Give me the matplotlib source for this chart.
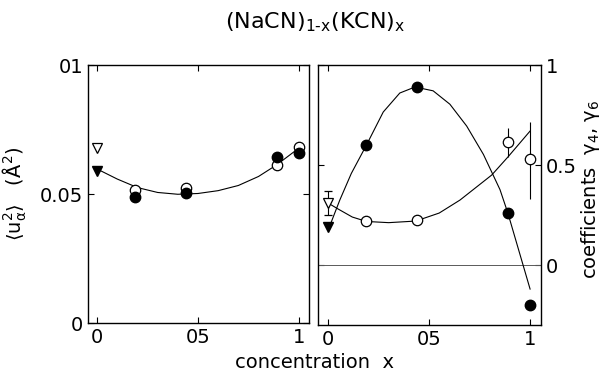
import matplotlib
matplotlib.use("Agg")
import matplotlib.pyplot as plt

plt.rcParams["mathtext.default"] = "regular"
plt.rcParams["font.family"] = ["DejaVu Sans"]

# left panel: <u^2> vs concentration
x_pts = [0.19, 0.44, 0.89, 1.0]
u2_open = [0.0514, 0.0525, 0.0613, 0.0684]
u2_filled = [0.0490, 0.0503, 0.0645, 0.0658]
x_tri = [0.0]
u2_tri_open = [0.0677]
u2_tri_filled = [0.0590]
u2_curve_x = [0.0, 0.1, 0.2, 0.3, 0.4, 0.5, 0.6, 0.7, 0.8, 0.89, 0.995]
u2_curve_y = [0.0597, 0.0558, 0.0525, 0.0506, 0.0499, 0.0502, 0.0513,
              0.0533, 0.0568, 0.0613, 0.0675]

# right panel: coefficients gamma4 (filled), gamma6 (open)
g4 = [0.60, 0.89, 0.26, -0.20]
g6 = [0.218, 0.224, 0.613, 0.53]
g6_err_lo = [0.02, 0.02, 0.073, 0.20]
g6_err_hi = [0.02, 0.02, 0.070, 0.187]
g4_tri = [0.19]
g6_tri = [0.31]
g6_tri_err = [0.06]
g4_curve_x = [0.01, 0.058, 0.115, 0.19, 0.273, 0.355, 0.43, 0.52, 0.603,
              0.686, 0.769, 0.851, 0.89, 1.0]
g4_curve_y = [0.20, 0.325, 0.458, 0.60, 0.765, 0.86, 0.89, 0.871, 0.804,
              0.695, 0.553, 0.377, 0.26, -0.12]
g6_curve_x = [0.0, 0.05, 0.12, 0.19, 0.3, 0.434, 0.55, 0.653, 0.81, 0.89, 1.0]
g6_curve_y = [0.31, 0.28, 0.24, 0.218, 0.212, 0.22, 0.26, 0.325, 0.45, 0.54, 0.67]

fig = plt.figure(figsize=(6.08, 3.78), dpi=100)
ax1 = fig.add_axes([0.1447, 0.1455, 0.3635, 0.6825])
ax2 = fig.add_axes([0.523, 0.140, 0.3668, 0.688])

ms = 7.5
fs = 14

# ---- left panel
ax1.plot(u2_curve_x, u2_curve_y, color="k", lw=0.8)
ax1.plot(x_pts, u2_open, "o", ms=ms, mfc="white", mec="k", mew=0.9)
ax1.plot(x_pts, u2_filled, "o", ms=ms, mfc="k", mec="k")
ax1.plot(x_tri, u2_tri_open, "v", ms=ms, mfc="white", mec="k", mew=0.9)
ax1.plot(x_tri, u2_tri_filled, "v", ms=ms, mfc="k", mec="k")
ax1.set_xlim(-0.045, 1.05)
ax1.set_ylim(0, 0.1)
ax1.set_xticks([0, 0.5, 1])
ax1.set_xticklabels(["0", "05", "1"])
ax1.set_yticks([0, 0.05, 0.1])
ax1.set_yticklabels(["0", "0.05", "01"])
ax1.set_ylabel(r"$\langle u_{\alpha}^{2}\rangle$   (Å$^{2}$)", fontsize=fs, labelpad=8)

# ---- right panel
ax2.axhline(0, color="0.35", lw=0.7)
ax2.plot(g4_curve_x, g4_curve_y, color="k", lw=0.8)
ax2.plot(g6_curve_x, g6_curve_y, color="k", lw=0.8)
ax2.errorbar(x_pts, g6, yerr=[g6_err_lo, g6_err_hi], fmt="o", ms=ms,
             mfc="white", mec="k", mew=0.9, ecolor="k", elinewidth=0.8, capsize=0)
ax2.plot(x_pts, g4, "o", ms=ms, mfc="k", mec="k")
ax2.errorbar(x_tri, g6_tri, yerr=g6_tri_err, fmt="v", ms=ms, mfc="white",
             mec="k", mew=0.9, ecolor="k", elinewidth=0.8, capsize=3)
ax2.plot(x_tri, g4_tri, "v", ms=ms, mfc="k", mec="k")
ax2.set_xlim(-0.05, 1.054)
ax2.set_ylim(-0.3, 1.0)
ax2.set_xticks([0, 0.5, 1])
ax2.set_xticklabels(["0", "05", "1"])
ax2.set_yticks([0, 0.5, 1])
ax2.set_yticklabels(["0", "0.5", "1"])
ax2.yaxis.tick_right()

for ax in (ax1, ax2):
    ax.tick_params(direction="in", length=4, width=0.8, labelsize=fs,
                   top=True, bottom=True, left=True, right=True)
    for s in ax.spines.values():
        s.set_linewidth(1.0)

fig.text(0.972, 0.50, r"coefficients  $\gamma_4$, $\gamma_6$", rotation=90,
         ha="center", va="center", fontsize=fs)
fig.text(0.518, 0.94, "(NaCN)$_{1\u2010x}$(KCN)$_{x}$", ha="center", va="center", fontsize=16)
fig.text(0.518, 0.04, "concentration  x", ha="center", va="center", fontsize=fs)

fig.savefig("out.png", dpi=100)
